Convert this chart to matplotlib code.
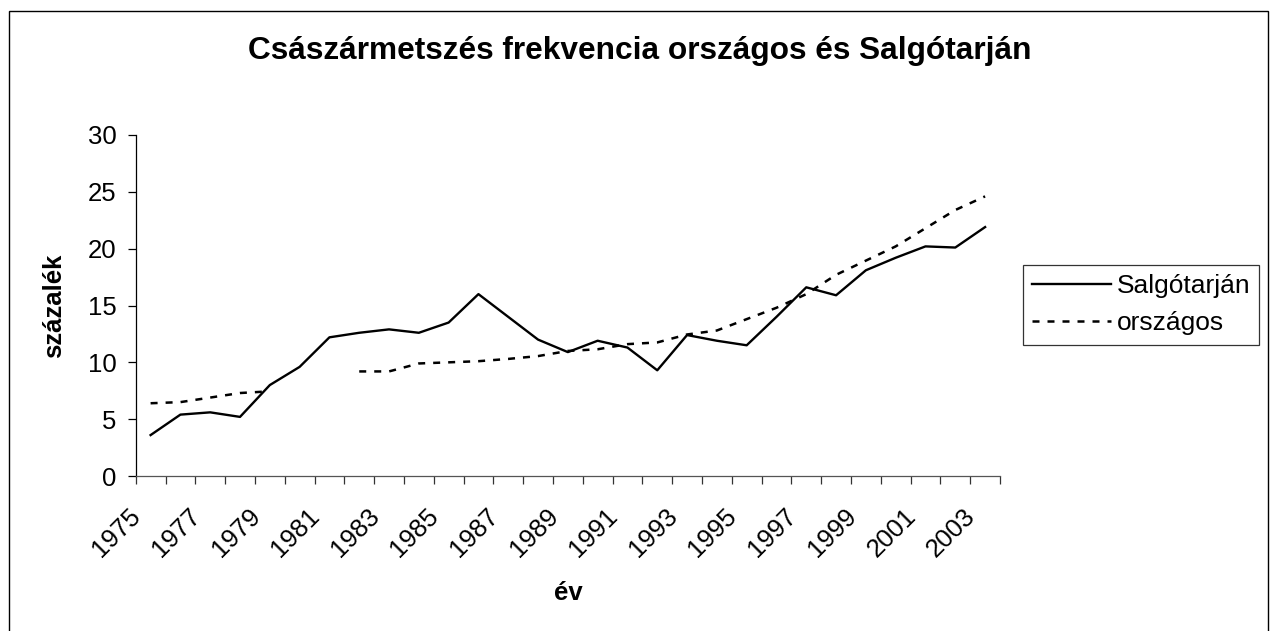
import numpy as np
import matplotlib
matplotlib.use('Agg')
import matplotlib.pyplot as plt
import matplotlib.transforms as mtransforms
from matplotlib.patches import Rectangle

plt.rcParams['font.family'] = ['Liberation Sans', 'DejaVu Sans']

# data
years = list(range(1975, 2004))
salgotarjan = [3.6, 5.4, 5.6, 5.2, 8.0, 9.6, 12.2, 12.6, 12.9, 12.6,
               13.5, 16.0, 14.0, 12.0, 10.9, 11.9, 11.3, 9.3, 12.4, 11.9,
               11.5, 14.0, 16.6, 15.9, 18.1, 19.2, 20.2, 20.1, 21.9]
orszagos = [6.4, 6.5, 6.9, 7.3, 7.45, np.nan, np.nan, 9.2, 9.2, 9.9,
            10.0, 10.1, 10.3, 10.55, 11.0, 11.15, 11.6, 11.75, 12.45, 12.8,
            13.8, 14.8, 16.0, 17.7, 18.95, 20.2, 21.8, 23.4, 24.6]
series_names = ['Salgótarján', 'országos']
yticks = [0, 5, 10, 15, 20, 25, 30]

W, H = 1270, 631
fig = plt.figure(figsize=(W / 100, H / 100), dpi=100)
fig.patch.set_facecolor('white')

# chart area border (Excel style), bottom edge off the image
fig.patches.append(Rectangle((8.5 / W, -0.05), (1268 - 8.5) / W, 1 - 11 / H + 0.05,
                             transform=fig.transFigure, fill=False,
                             edgecolor='black', linewidth=1.0))

left, right, top, bottom = 135.7, 1000, 135, 476
ax = fig.add_axes([left / W, 1 - bottom / H, (right - left) / W, (bottom - top) / H])

x = np.arange(len(years))
ax.plot(x, salgotarjan, color='black', lw=1.7, label=series_names[0])
ax.plot(x, orszagos, color='black', lw=1.8, linestyle=(0, (2.8, 3.2)), label=series_names[1])

ax.set_xlim(-0.5, len(years) - 0.5)
ax.set_ylim(0, 30)
ax.set_yticks(yticks)

ax.spines['top'].set_visible(False)
ax.spines['right'].set_visible(False)
ax.spines['left'].set_linewidth(0.9)
ax.spines['bottom'].set_linewidth(0.9)
ax.spines['bottom'].set_color('#555555')

# labels every other year, tick marks between categories
ax.set_xticks(x[::2])
ax.set_xticklabels([str(y) for y in years[::2]], rotation=45, ha='right', va='top')
ax.set_xticks(np.arange(-0.5, len(years), 1.0), minor=True)
ax.tick_params(axis='x', which='major', length=0, pad=20, labelsize=18.5)
ax.tick_params(axis='x', which='minor', length=6, width=0.9, direction='out', color='#333333')
ax.tick_params(axis='y', length=5.5, width=0.9, direction='out', pad=8.5, labelsize=18.5)

offset = mtransforms.ScaledTranslation(-5 / 100, 0, fig.dpi_scale_trans)
for lab in ax.get_xticklabels():
    lab.set_transform(lab.get_transform() + offset)

fig.text(640 / W, 1 - 51 / H, 'Császármetszés frekvencia országos és Salgótarján',
         ha='center', va='center', fontsize=22.8, fontweight='bold')
fig.text(54 / W, 1 - 305.5 / H, 'százalék', rotation=90, ha='center', va='center',
         fontsize=18.5, fontweight='bold')
fig.text(568 / W, 1 - 593 / H, 'év', ha='center', va='center',
         fontsize=18.5, fontweight='bold')

leg = fig.legend(loc='upper left', bbox_to_anchor=(1022.7 / W, 1 - 265 / H),
                 bbox_transform=fig.transFigure, fontsize=19, frameon=True,
                 fancybox=False, edgecolor='black', borderaxespad=0,
                 borderpad=0.35, handlelength=3.0, handletextpad=0.2,
                 labelspacing=0.5)
leg.get_frame().set_linewidth(0.9)

fig.savefig('out.png', dpi=100)
